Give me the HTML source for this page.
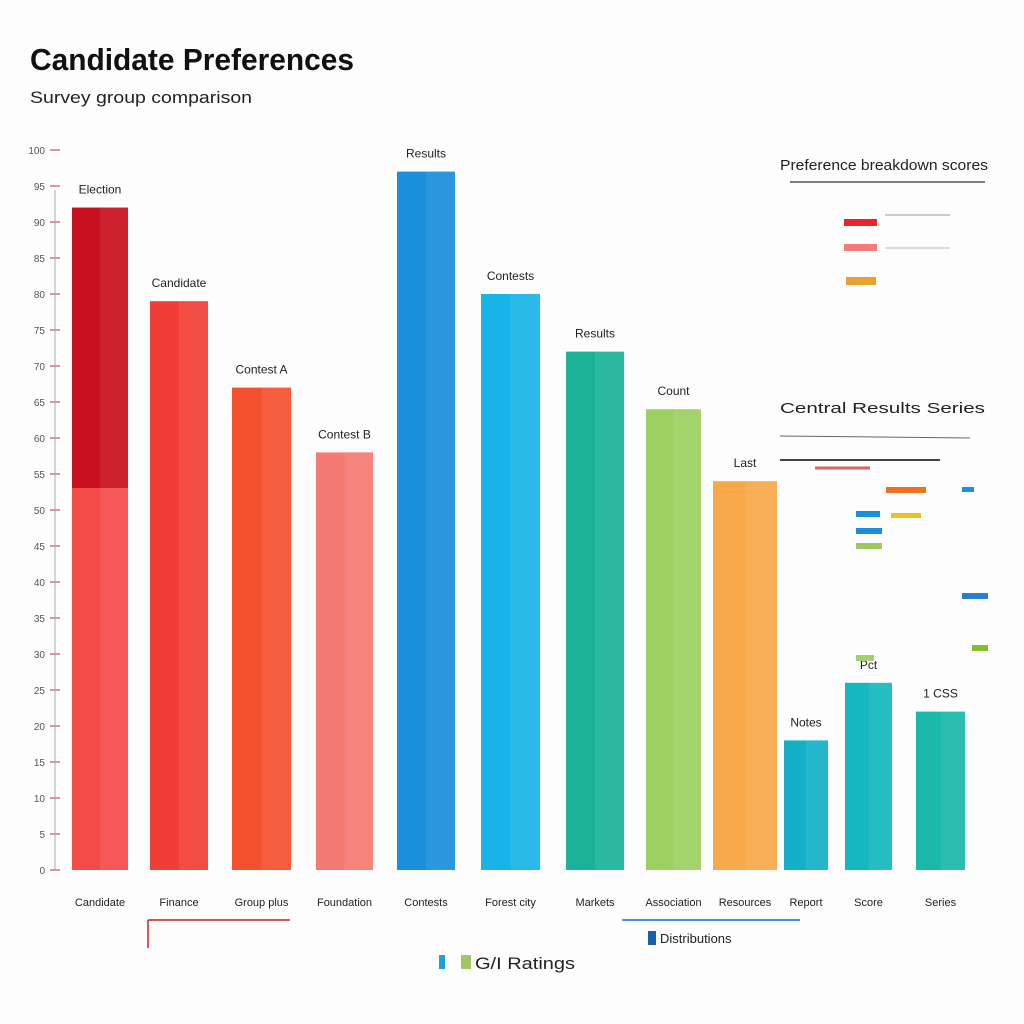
<!DOCTYPE html>
<html><head><meta charset="utf-8"><style>
body{margin:0;background:#fdfdfd;font-family:"Liberation Sans",sans-serif;}
#wrap{position:relative;width:1024px;height:1024px;overflow:hidden;background:#fdfdfd}
</style></head><body>
<div id="wrap">
<svg id="chart" width="1024" height="1024">
<text x="30" y="70" font-size="31" font-weight="bold" fill="#111" textLength="324" lengthAdjust="spacingAndGlyphs">Candidate Preferences</text>
<text x="30" y="103" font-size="17" fill="#222" textLength="222" lengthAdjust="spacingAndGlyphs">Survey group comparison</text>
<g id="bars"></g>
<g id="legend1">
<text x="780" y="170" font-size="15" fill="#222" textLength="208" lengthAdjust="spacingAndGlyphs">Preference breakdown scores</text>
<line x1="790" y1="182" x2="985" y2="182" stroke="#555" stroke-width="1.5"/>
<rect x="844" y="219" width="33" height="7" fill="#e8242c"/>
<rect x="844" y="244" width="33" height="7" fill="#f57a7a"/>
<rect x="846" y="277" width="30" height="8" fill="#e8a030"/>
<line x1="885" y1="215" x2="950" y2="215" stroke="#999"/>
<line x1="885" y1="248" x2="950" y2="248" stroke="#bbb"/>
</g>
<g>
<text x="780" y="413" font-size="15" fill="#222" textLength="205" lengthAdjust="spacingAndGlyphs">Central Results Series</text>
<line x1="780" y1="436" x2="970" y2="438" stroke="#666"/>
<line x1="780" y1="460" x2="940" y2="460" stroke="#444" stroke-width="2"/>
<line x1="815" y1="468" x2="870" y2="468" stroke="#e36060" stroke-width="3"/>
<rect x="886" y="487" width="40" height="6" fill="#f07020"/>
<rect x="856" y="511" width="24" height="6" fill="#1a8fdc"/>
<rect x="891" y="513" width="30" height="5" fill="#f0c020"/>
<rect x="856" y="528" width="26" height="6" fill="#1a8fdc"/>
<rect x="856" y="543" width="26" height="6" fill="#a0c860"/>
<rect x="856" y="655" width="18" height="6" fill="#a0d070"/>
<rect x="962" y="487" width="12" height="5" fill="#1a8fdc"/>
<rect x="962" y="593" width="26" height="6" fill="#2a7fcc"/>
<rect x="972" y="645" width="16" height="6" fill="#80c030"/>
</g>
<g>
<rect x="439" y="955" width="6" height="14" fill="#1a9fe0"/>
<rect x="461" y="955" width="10" height="14" fill="#a0c860"/>
<text x="475" y="969" font-size="17" fill="#222" textLength="100" lengthAdjust="spacingAndGlyphs">G/I Ratings</text>
<rect x="648" y="931" width="8" height="14" fill="#1a5faa"/>
<text x="660" y="943" font-size="13" fill="#222">Distributions</text>
<line x1="622" y1="920" x2="800" y2="920" stroke="#1a6fc0" stroke-width="1.5"/>
<line x1="148" y1="920" x2="290" y2="920" stroke="#c82020" stroke-width="1.5"/>
<line x1="148" y1="920" x2="148" y2="948" stroke="#c82020" stroke-width="1.5"/>
</g>
<line x1="55" y1="190" x2="55" y2="870" stroke="#aaa"/>
</svg>
</div>
<script>
const categories=["Candidate","Finance","Group plus","Foundation","Contests","Forest city","Markets","Association","Resources","Report","Score","Series"];
const values=[92,79,67,58,97,80,72,64,54,18,26,22];
const valueLabels=["Election","Candidate","Contest A","Contest B","Results","Contests","Results","Count","Last","Notes","Pct","1 CSS"];
const colors=["#f44a48","#f03e36","#f5502e","#f57a72","#1a8fdc","#18b4e8","#1ab39a","#9cd060","#f8a848","#13b0c8","#14b8c0","#1ab8a8"];
const lefts=[72,150,232,316,397,481,566,646,713,784,845,916];
const widths=[56,58,59,57,58,59,58,55,64,44,47,49];
const base=870, top0=150, vmax=100;
function y(v){return base-(v/vmax)*(base-top0);}
const g=document.getElementById('bars');
const NS="http://www.w3.org/2000/svg";
for(let i=0;i<categories.length;i++){
  const r=document.createElementNS(NS,'rect');
  
  
  r.setAttribute('x',lefts[i]);r.setAttribute('y',y(values[i]));
  r.setAttribute('width',widths[i]);r.setAttribute('height',base-y(values[i]));
  r.setAttribute('fill',colors[i]);g.appendChild(r);
  if(i===0){
    const d=document.createElementNS(NS,'rect');
    
    
    d.setAttribute('x',lefts[i]);d.setAttribute('y',y(values[i]));
    d.setAttribute('width',widths[i]);d.setAttribute('height',Math.max(0,488-y(values[i])));
    d.setAttribute('fill','#c8101e');g.appendChild(d);
  }
  const s=document.createElementNS(NS,'rect');
  
  
  s.setAttribute('x',lefts[i]+widths[i]/2);s.setAttribute('y',y(values[i]));
  s.setAttribute('width',widths[i]/2);s.setAttribute('height',base-y(values[i]));
  s.setAttribute('fill','#ffffff');s.setAttribute('opacity','0.08');g.appendChild(s);
  const t=document.createElementNS(NS,'text');
  
  
  t.setAttribute('x',lefts[i]+widths[i]/2);t.setAttribute('y',y(values[i])-14);
  t.setAttribute('text-anchor','middle');t.setAttribute('font-size','12');t.setAttribute('fill','#222');
  t.textContent=valueLabels[i];g.appendChild(t);
  const c=document.createElementNS(NS,'text');
  
  
  c.setAttribute('x',lefts[i]+widths[i]/2);c.setAttribute('y',906);
  c.setAttribute('text-anchor','middle');c.setAttribute('font-size','11');c.setAttribute('fill','#222');
  c.textContent=categories[i];g.appendChild(c);
}
for(let v=0;v<=100;v+=5){
  const l=document.createElementNS(NS,'line');
  
  
  l.setAttribute('x1',50);l.setAttribute('x2',60);l.setAttribute('y1',y(v));l.setAttribute('y2',y(v));
  l.setAttribute('stroke','#a33');g.appendChild(l);
  const t=document.createElementNS(NS,'text');
  
  
  t.setAttribute('x',45);t.setAttribute('y',y(v)+4);t.setAttribute('text-anchor','end');
  t.setAttribute('font-size','10');t.setAttribute('fill','#555');t.textContent=v;g.appendChild(t);
}
</script>
</body></html>
